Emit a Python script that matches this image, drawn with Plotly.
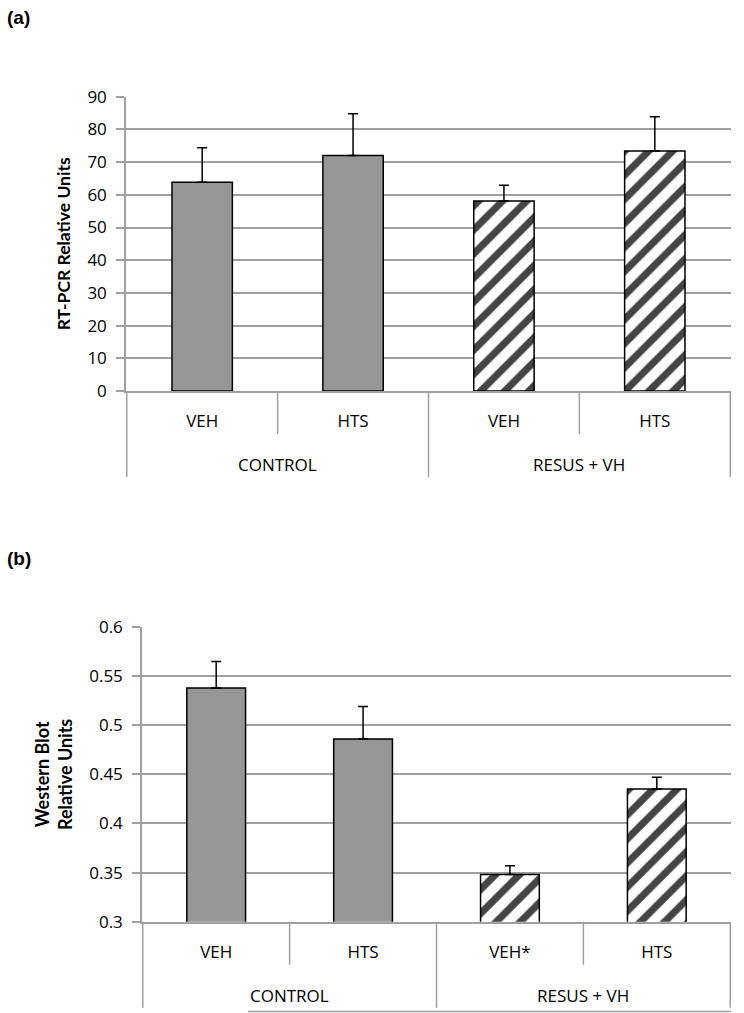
import plotly.graph_objects as go

# ---- data ----
groups = ["CONTROL", "CONTROL", "RESUS + VH", "RESUS + VH"]
treat_a = ["VEH", "HTS", "VEH", "HTS"]
treat_b = ["VEH", "HTS", "VEH*", "HTS"]
pcr_values = [63.8, 72.0, 58.1, 73.4]
pcr_err = [10.6, 12.8, 4.8, 10.5]
wb_values = [0.538, 0.486, 0.348, 0.435]
wb_err = [0.027, 0.033, 0.009, 0.012]
pcr_ticks = [0, 10, 20, 30, 40, 50, 60, 70, 80, 90]
wb_ticks = [0.3, 0.35, 0.4, 0.45, 0.5, 0.55, 0.6]

FONT = "Open Sans"
TFONT = "Lato"
GRID = "#a0a0a0"
fills = ["#969696", "#969696", "white", "white"]
shapes_pat = ["", "", "/", "/"]
W, H = 744, 1013


def keys(treat):
    return [g + "|" + t for g, t in zip(groups, treat)]


def bar_trace(treat, vals, errs, xa, ya):
    return go.Bar(
        x=keys(treat), y=vals, xaxis=xa, yaxis=ya,
        marker=dict(color=fills, line=dict(color="black", width=1.5),
                    pattern=dict(shape=shapes_pat, fgcolor="black", fgopacity=1, fillmode="overlay",
                                 size=17, solidity=0.42)),
        error_y=dict(type="data", array=errs, arrayminus=[0] * len(errs), symmetric=False,
                     color="black", thickness=1.5, width=5),
        showlegend=False, hoverinfo="skip",
    )


fig = go.Figure()
fig.add_trace(bar_trace(treat_a, pcr_values, pcr_err, "x", "y"))
fig.add_trace(bar_trace(treat_b, wb_values, wb_err, "x2", "y2"))


def xaxis_cfg(treat, domain, anchor):
    return dict(type="category", domain=domain, anchor=anchor, automargin=False,
                tickmode="array", tickvals=keys(treat), ticktext=treat, ticks="",
                showgrid=False, showline=True, linecolor=GRID, linewidth=1.5, zeroline=False,
                tickfont=dict(family=FONT, size=17, color="black"), ticklabelstandoff=14)


yax = dict(showgrid=True, gridcolor=GRID, gridwidth=1.5, showline=True, linecolor=GRID, linewidth=1.5,
           ticks="outside", ticklen=8, tickcolor=GRID, tickwidth=1.5, automargin=False,
           tickfont=dict(family=FONT, size=17, color="black"), zeroline=False, ticklabelstandoff=6)

# category-axis decorations (separator lines and group labels), placed via the axis scale
shapes = []
annotations = []
panels = [("x", "y", 391 - 96.7), ("x2", "y2", 921.7 - 627)]
for xa, ya, hpx in panels:
    n = len(groups)
    inner = -43 / hpx
    outer = -86 / hpx
    for i in range(n + 1):
        b = i - 0.5
        is_outer = i == 0 or i == n or groups[i] != groups[i - 1]
        shapes.append(dict(type="line", xref=xa, yref=ya + " domain", x0=b, x1=b, y0=0,
                           y1=outer if is_outer else inner, line=dict(color=GRID, width=1.5)))
    seen = []
    for g in groups:
        if g not in seen:
            seen.append(g)
    for g in seen:
        idx = [i for i, gg in enumerate(groups) if gg == g]
        annotations.append(dict(text=g, xref=xa, yref=ya + " domain", x=sum(idx) / len(idx), y=-74 / hpx,
                                showarrow=False, xanchor="center", yanchor="middle",
                                font=dict(family=FONT, size=17, color="black")))

# thin rule along the bottom edge of the lower panel (as in the source image)
shapes.append(dict(type="line", xref="paper", yref="paper", x0=248 / W, x1=731 / W, y0=1 - 1011.5 / H,
                   y1=1 - 1011.5 / H, line=dict(color=GRID, width=1.5)))

annotations += [
    dict(text="<b>(a)</b>", x=5 / W, y=1 - 17 / H, xref="paper", yref="paper", xanchor="left", yanchor="middle",
         showarrow=False, font=dict(family="Liberation Sans", size=19, color="black")),
    dict(text="<b>(b)</b>", x=5 / W, y=1 - 558 / H, xref="paper", yref="paper", xanchor="left", yanchor="middle",
         showarrow=False, font=dict(family="Liberation Sans", size=19, color="black")),
]

fig.update_layout(
    template="none",
    width=W, height=H, margin=dict(l=0, r=0, t=0, b=0, autoexpand=False),
    paper_bgcolor="white", plot_bgcolor="white", bargap=0.6,
    xaxis=xaxis_cfg(treat_a, [126 / W, 731 / W], "y"),
    yaxis=dict(yax, domain=[1 - 391 / H, 1 - 96.7 / H], anchor="x", range=[0, 90], tickvals=pcr_ticks,
               title=dict(text="<b>RT-PCR Relative Units</b>", font=dict(family=TFONT, size=17.5, color="black"),
                          standoff=12)),
    xaxis2=xaxis_cfg(treat_b, [142 / W, 731 / W], "y2"),
    yaxis2=dict(yax, domain=[1 - 921.7 / H, 1 - 627 / H], anchor="x2", range=[0.3, 0.6], tickvals=wb_ticks,
                ticktext=[f"{v:g}" for v in wb_ticks],
                title=dict(text="<b>Western Blot<br>Relative Units</b>",
                           font=dict(family=TFONT, size=18, color="black"), standoff=12)),
    shapes=shapes,
    annotations=annotations,
)

fig.write_html("out.html", config={"displayModeBar": False},
               post_script="document.body.style.margin='0';document.body.style.padding='0';")
